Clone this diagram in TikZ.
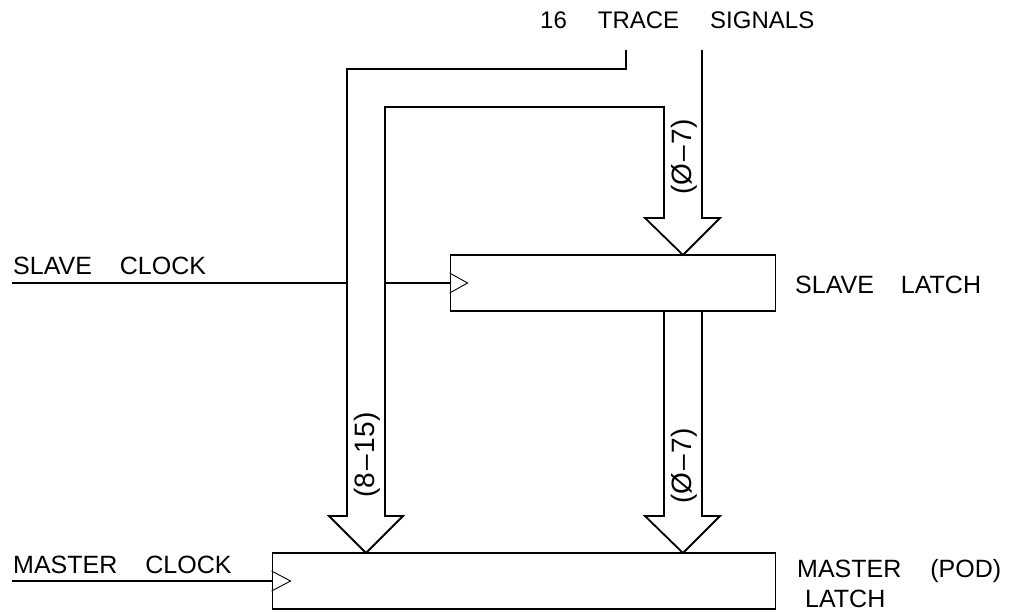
\documentclass[tikz,border=0pt]{standalone}
\usepackage{fontspec}
\setmainfont{Liberation Sans}
\tikzset{
  wire/.style={line width=1.8pt, line join=miter},
  latch/.style={draw, line width=1.8pt, rectangle, inner sep=0pt},
  clk/.style={line width=0.9pt},
  lbl/.style={inner sep=0pt, anchor=base west, font=\fontsize{25}{28}\selectfont},
  smalllbl/.style={inner sep=0pt, anchor=base west, font=\fontsize{24}{28}\selectfont},
  buslbl/.style={inner sep=0pt, rotate=90, font=\fontsize{28}{30}\selectfont},
}
\newcommand{\gap}{\hspace{28pt}}
\begin{document}
\begin{tikzpicture}[x=1pt, y=-1pt]
\useasboundingbox (0,0) rectangle (1017,611);
% latches
\node[latch, minimum width=325pt, minimum height=56pt] (slave) at (613,283) {};
\node[latch, minimum width=503pt, minimum height=56pt] (master) at (524,581) {};
% clock triangles
\draw[clk] ([yshift=10pt]slave.west) -- ++(18pt,-10pt) -- ++(-18pt,-10pt);
\draw[clk] ([yshift=10pt]master.west) -- ++(19pt,-10pt) -- ++(-19pt,-10pt);
% clock lines
\coordinate (sclk) at (12,283);
\coordinate (mclk) at (12,581);
\draw[wire] (sclk) -- (347,283);
\draw[wire] (385,283) -- (slave.west);
\draw[wire] (mclk) -- (master.west);
% trace signal bus (split)
\draw[wire] (626,50) -- (626,69) -- (347,69) -- (347,516) -- (329,516)
  -- (366,553) -- (403,516) -- (385,516) -- (385,107) -- (664,107)
  -- (664,218) -- (645,218) -- (683,255) -- (720,218) -- (702,218) -- (702,50);
% slave to master bus
\draw[wire] (664,312) -- (664,516) -- (645,516) -- (683,553)
  -- (720,516) -- (702,516) -- (702,312);
% labels
\node[smalllbl] (trace) at (540,28) {16\hspace{31pt}TRACE\hspace{31pt}SIGNALS};
\node[lbl] (slck) at (13,274) {SLAVE\gap CLOCK};
\node[lbl] (mclkl) at (13,573) {MASTER\gap CLOCK};
\node[lbl] (sll) at (795,293) {SLAVE\hspace{27pt}LATCH};
\node[lbl] (mll) at (797,577) {MASTER\hspace{29pt}(POD)};
\node[lbl] (mll2) at (805,607) {LATCH};
% bus labels
\node[buslbl] (b1) at (684,157) {(Ø\kern2pt–\kern2pt7)};
\node[buslbl] (b2) at (367,455) {(8\kern2pt–\kern2pt15)};
\node[buslbl] (b3) at (684,466) {(Ø\kern2pt–\kern2pt7)};
\end{tikzpicture}
\end{document}
